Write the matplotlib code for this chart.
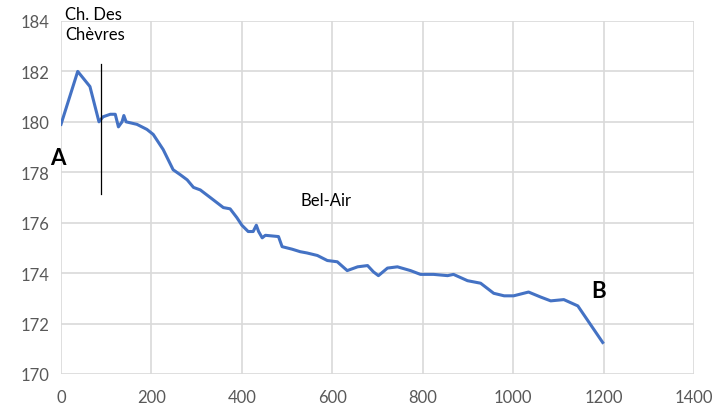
import matplotlib
matplotlib.use("Agg")
import matplotlib.pyplot as plt

# distance (m) and altitude (m) along the profile
dist = [0, 37, 64, 84, 93, 109, 120, 127, 135, 139, 144, 168, 190, 204, 226,
        248, 264, 279, 293, 308, 330, 359, 374, 389, 400, 414, 425, 432, 437, 445,
        452, 481, 489, 511, 529, 544, 567, 589, 611, 633, 656, 678, 691, 702, 722,
        744, 773, 795, 824, 855, 868, 899, 928, 957, 980, 1001, 1034, 1061, 1083, 1112,
        1143, 1198]
alt = [179.9, 182.0, 181.4, 180.0, 180.2, 180.3, 180.3, 179.8, 180.0, 180.25,
       180.0, 179.9, 179.7, 179.5, 178.9, 178.1, 177.9, 177.7, 177.4, 177.3,
       177.0, 176.6, 176.55, 176.2, 175.9, 175.65, 175.65, 175.9, 175.65, 175.4,
       175.5, 175.45, 175.05, 174.95, 174.85, 174.8, 174.7, 174.5, 174.45, 174.1,
       174.25, 174.3, 174.05, 173.9, 174.2, 174.25, 174.1, 173.95, 173.95, 173.9,
       173.95, 173.7, 173.6, 173.2, 173.1, 173.1, 173.25, 173.05, 172.9, 172.95,
       172.7, 171.25]

xticks = [0, 200, 400, 600, 800, 1000, 1200, 1400]
yticks = [170, 172, 174, 176, 178, 180, 182, 184]

marker_x = 88
marker_y = (177.15, 182.3)

plt.rcParams["font.family"] = ["Lato", "DejaVu Sans"]

fig = plt.figure(figsize=(7.21, 4.10), dpi=100)
ax = fig.add_axes([0.0846, 0.0854, 0.878, 0.861])

ax.plot(dist, alt, color="#4472C4", lw=2.2, solid_joinstyle="round", zorder=3)
ax.plot([marker_x, marker_x], marker_y, color="black", lw=0.9, zorder=4)

ax.set_xlim(0, 1400)
ax.set_ylim(170, 184)
ax.set_xticks(xticks)
ax.set_yticks(yticks)
ax.grid(True, color="#D9D9D9", lw=1.2)
ax.set_axisbelow(True)
for s in ax.spines.values():
    s.set_visible(False)
ax.tick_params(length=0, labelsize=12, labelcolor="#595959")
ax.tick_params(axis="x", pad=11)
ax.tick_params(axis="y", pad=8)

ax.text(9, 184.6, "Ch. Des\nChèvres", fontsize=12, va="top", ha="left",
        linespacing=1.3, clip_on=False)
ax.text(-7, 178.6, "A", fontsize=16, fontweight="bold", ha="center", va="center",
        clip_on=False)
ax.text(585, 176.9, "Bel-Air", fontsize=12, ha="center", va="center")
ax.text(1189, 173.3, "B", fontsize=16, fontweight="bold", ha="center", va="center")

fig.savefig("out.png", dpi=100)
